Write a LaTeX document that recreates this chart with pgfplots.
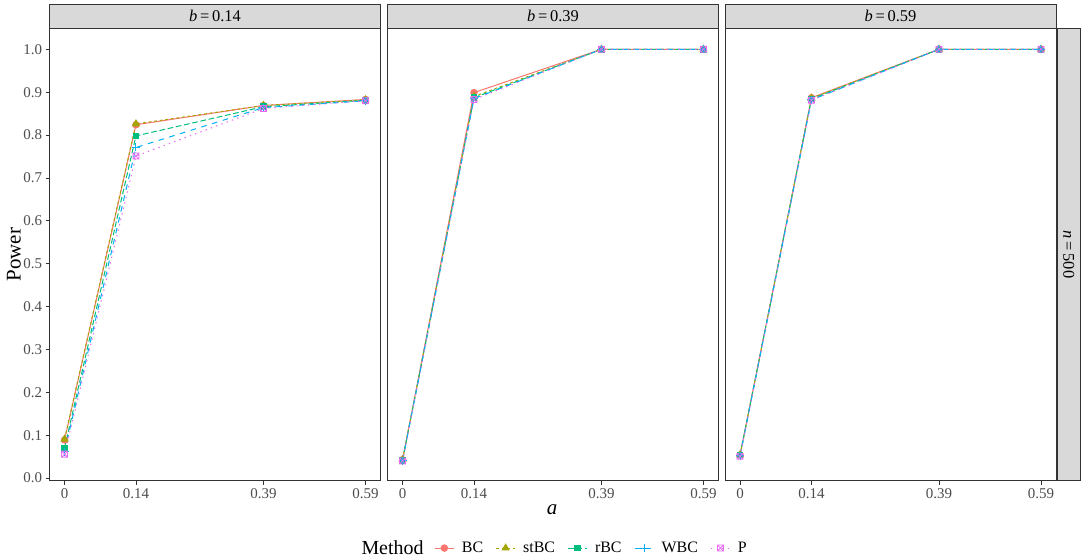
\documentclass[border=0pt]{standalone}
\usepackage{pgfplots}
\pgfplotsset{compat=1.18}
\usepackage{fontspec}
\setmainfont{Liberation Serif}

\definecolor{cBC}{HTML}{F8766D}
\definecolor{cstBC}{HTML}{A3A500}
\definecolor{crBC}{HTML}{00BF7D}
\definecolor{cWBC}{HTML}{00B0F6}
\definecolor{cP}{HTML}{E76BF3}
\definecolor{grey20}{HTML}{333333}
\definecolor{grey30}{HTML}{4D4D4D}
\definecolor{grey85}{HTML}{D9D9D9}

% boxed cross, like ggplot shape 7
\pgfdeclareplotmark{boxx}{%
  \pgfpathrectangle{\pgfpoint{-\pgfplotmarksize}{-\pgfplotmarksize}}{\pgfpoint{2\pgfplotmarksize}{2\pgfplotmarksize}}%
  \pgfpathmoveto{\pgfpoint{-\pgfplotmarksize}{-\pgfplotmarksize}}%
  \pgfpathlineto{\pgfpoint{\pgfplotmarksize}{\pgfplotmarksize}}%
  \pgfpathmoveto{\pgfpoint{-\pgfplotmarksize}{\pgfplotmarksize}}%
  \pgfpathlineto{\pgfpoint{\pgfplotmarksize}{-\pgfplotmarksize}}%
  \pgfusepathqstroke}

\pgfplotsset{
  facet/.style={
    scale only axis, width=331bp, height=452.2bp, anchor=south west,
    xmin=-0.0295, xmax=0.6195, ymin=-0.006, ymax=1.0485,
    axis line style={draw=grey20, line width=0.9bp},
    xtick={0,0.14,0.39,0.59}, xticklabels={0,0.14,0.39,0.59},
    tick align=outside, tick pos=left, major tick length=4bp,
    tick style={grey20, line width=0.8bp},
    ticklabel style={font=\fontsize{15}{17}\selectfont, text=grey30},
    clip=false,
  },
  sBC/.style={cBC, line width=1bp, solid, mark=*, mark size=3.2bp, mark options={solid}},
  sstBC/.style={cstBC, line width=1bp, dash pattern=on 2.8bp off 2.8bp, mark=triangle*, mark size=3.8bp, mark options={solid}},
  srBC/.style={crBC, line width=1bp, dash pattern=on 5.6bp off 2.8bp, mark=square*, mark size=2.9bp, mark options={solid}},
  sWBC/.style={cWBC, line width=1bp, dash pattern=on 5.6bp off 5.6bp, mark=+, mark size=4bp, mark options={solid, line width=1bp}},
  sP/.style={cP, line width=1bp, dash pattern=on 1.4bp off 4.2bp, mark=boxx, mark size=3bp, mark options={solid, line width=0.8bp}},
}

\begin{document}
\begin{tikzpicture}
\path[use as bounding box, fill=white] (0,0) rectangle (1084bp,559bp);

% b = 0.14
\begin{axis}[facet, at={(49.5bp,78.3bp)},
  ytick={0,0.1,0.2,0.3,0.4,0.5,0.6,0.7,0.8,0.9,1.0},
  yticklabels={0.0,0.1,0.2,0.3,0.4,0.5,0.6,0.7,0.8,0.9,1.0}]
\addplot[sBC] coordinates {(0,0.089) (0.14,0.824) (0.39,0.869) (0.59,0.883)};
\addplot[sstBC] coordinates {(0,0.091) (0.14,0.826) (0.39,0.869) (0.59,0.882)};
\addplot[srBC] coordinates {(0,0.070) (0.14,0.798) (0.39,0.866) (0.59,0.881)};
\addplot[sWBC] coordinates {(0,0.062) (0.14,0.771) (0.39,0.864) (0.59,0.880)};
\addplot[sP] coordinates {(0,0.056) (0.14,0.751) (0.39,0.862) (0.59,0.880)};
\end{axis}

% b = 0.39
\begin{axis}[facet, at={(387.5bp,78.3bp)}, ytick=\empty,
  legend style={at={(0.141,-0.149)}, anchor=west, draw=none, fill=none, inner sep=0pt,
    font=\fontsize{16}{18}\selectfont, text=black,
    nodes={inner sep=1.5bp},
    /tikz/every odd column/.append style={column sep=6bp},
    /tikz/every even column/.append style={column sep=11bp}},
  legend columns=5, legend cell align=left,
  legend image code/.code={\draw[mark repeat=2,mark phase=2,#1] plot coordinates {(0bp,0bp) (9.5bp,0bp) (19bp,0bp)};}]
\addplot[sBC] coordinates {(0,0.043) (0.14,0.899) (0.39,1.000) (0.59,1.000)};
\addplot[sstBC] coordinates {(0,0.043) (0.14,0.890) (0.39,1.000) (0.59,1.000)};
\addplot[srBC] coordinates {(0,0.042) (0.14,0.887) (0.39,1.000) (0.59,1.000)};
\addplot[sWBC] coordinates {(0,0.041) (0.14,0.885) (0.39,1.000) (0.59,1.000)};
\addplot[sP] coordinates {(0,0.040) (0.14,0.883) (0.39,1.000) (0.59,1.000)};
\legend{BC,stBC,rBC,WBC,P}
\end{axis}

% b = 0.59
\begin{axis}[facet, at={(725bp,78.3bp)}, ytick=\empty]
\addplot[sBC] coordinates {(0,0.054) (0.14,0.887) (0.39,1.000) (0.59,1.000)};
\addplot[sstBC] coordinates {(0,0.054) (0.14,0.886) (0.39,1.000) (0.59,1.000)};
\addplot[srBC] coordinates {(0,0.054) (0.14,0.884) (0.39,1.000) (0.59,1.000)};
\addplot[sWBC] coordinates {(0,0.052) (0.14,0.882) (0.39,1.000) (0.59,1.000)};
\addplot[sP] coordinates {(0,0.051) (0.14,0.881) (0.39,1.000) (0.59,1.000)};
\end{axis}

% facet strips
\foreach \x/\lab in {49.5/0.14, 387.5/0.39, 725/0.59}{
  \draw[grey20, line width=0.9bp, fill=grey85] (\x bp,530.5bp) rectangle ++(331bp,24.5bp);
  \node[font=\fontsize{16.5}{18}\selectfont, text=black] at ({\x bp+165.5bp},542.7bp) {\textit{b}\,=\,\lab};
}
\draw[grey20, line width=0.9bp, fill=grey85] (1057bp,78.3bp) rectangle (1080.5bp,530.5bp);
\node[font=\fontsize{16.5}{18}\selectfont, rotate=-90] at (1068.7bp,304.4bp) {\textit{n}\,=\,500};

% axis titles
\node[font=\fontsize{21}{23}\selectfont, rotate=90] at (14bp,304.4bp) {Power};
\node[font=\fontsize{21}{23}\selectfont] at (552bp,49bp) {\textit{a}};
\node[font=\fontsize{20}{22}\selectfont, anchor=west] at (358bp,11bp) {Method};
\end{tikzpicture}
\end{document}
